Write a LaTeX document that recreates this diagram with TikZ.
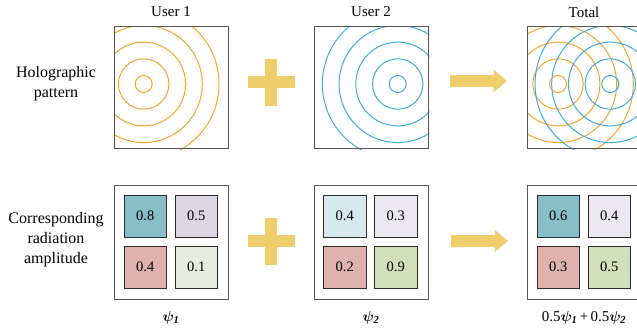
\documentclass[tikz,border=0pt]{standalone}
\usepackage{amsmath,amssymb,bm}
\usepackage{fontspec}
\setmainfont{Liberation Serif}
\usetikzlibrary{positioning}
\definecolor{ringorange}{HTML}{F3A224}
\definecolor{ringblue}{HTML}{3AADDC}
\definecolor{opyellow}{HTML}{EECE6B}
\definecolor{framegray}{HTML}{5A5550}
\definecolor{celldark}{HTML}{2E2B29}
\definecolor{ampteal}{HTML}{87BFC9}
\definecolor{amplav}{HTML}{DCD5E2}
\definecolor{amppink}{HTML}{DFB2AF}
\definecolor{ampmint}{HTML}{E6ECDD}
\definecolor{ampsky}{HTML}{D6E8EE}
\definecolor{amplilac}{HTML}{ECE8F0}
\definecolor{ampsage}{HTML}{D3DEBB}

\begin{document}
\begin{tikzpicture}[
    x=1pt, y=-1pt,
    holobox/.style={draw=framegray, line width=1.4pt, minimum width=114pt,
                    minimum height=122pt, inner sep=0pt, anchor=north west},
    ampbox/.style={draw=framegray, line width=1.4pt, minimum width=114pt,
                   minimum height=114pt, inner sep=0pt, anchor=north west},
    cell/.style={draw=celldark, line width=0.9pt, minimum size=42.5pt, inner sep=0pt,
                 font=\fontsize{14.5}{16}\selectfont},
    ringA/.style={draw=ringorange, line width=1pt},
    ringB/.style={draw=ringblue, line width=1pt},
    head/.style={font=\fontsize{15}{18}\selectfont},
    side/.style={font=\fontsize{16}{20}\selectfont, align=center},
    sub/.style={font=\fontsize{15}{18}\selectfont},
    plusbar/.style={fill=opyellow},
    opfill/.style={fill=opyellow},
]
\useasboundingbox (0,0) rectangle (637,332);

% Title labels
\node[head] (t1) at (171,12) {User 1};
\node[head] (t2) at (371,12) {User 2};
\node[head] (t3) at (584,12) {Total};
\node[side] (lhol) at (56,84) {Holographic\\pattern};
\node[side] (lamp) at (56,240) {Corresponding\\radiation\\amplitude};

% ---- TOP: holographic patterns ----
\node[holobox] (h1) at (114,26) {};
\node[holobox] (h2) at (314,26) {};
\node[holobox] (h3) at (527,26) {};
\coordinate (c1) at (143.7,84);
\coordinate (c2) at (397.7,84);
\coordinate (c3a) at (558,84);
\coordinate (c3b) at (610.3,84);
\begin{scope}
\clip (h1.north west) rectangle (h1.south east);
\foreach \r in {8.5,25.2,41.9,58.6,75.3} \draw[ringA] (c1) circle (\r);
\end{scope}
\begin{scope}
\clip (h2.north west) rectangle (h2.south east);
\foreach \r in {8.5,25.2,41.9,58.6,75.3} \draw[ringB] (c2) circle (\r);
\end{scope}
\begin{scope}
\clip (h3.north west) rectangle (h3.south east);
\foreach \r in {8.5,25.2,41.9,58.6,75.3} \draw[ringA] (c3a) circle (\r);
\foreach \r in {8.5,25.2,41.9,58.6,75.3} \draw[ringB] (c3b) circle (\r);
\end{scope}
\node[holobox] at (h1.north west) {};
\node[holobox] at (h2.north west) {};
\node[holobox] at (h3.north west) {};

% ---- BOTTOM: radiation amplitudes ----
\node[ampbox] (a1) at (114,185) {};
\node[ampbox] (a2) at (313.5,185) {};
\node[ampbox] (a3) at (527,185) {};
\node[cell, fill=ampteal] (a1tl) at (145.25,216.25) {0.8};
\node[cell, fill=amplav]  (a1tr) at (196.25,216.25) {0.5};
\node[cell, fill=amppink] (a1bl) at (145.25,267.25) {0.4};
\node[cell, fill=ampmint] (a1br) at (196.25,267.25) {0.1};
\node[cell, fill=ampsky]   (a2tl) at (344.75,216.25) {0.4};
\node[cell, fill=amplilac] (a2tr) at (395.75,216.25) {0.3};
\node[cell, fill=amppink]  (a2bl) at (344.75,267.25) {0.2};
\node[cell, fill=ampsage]  (a2br) at (395.75,267.25) {0.9};
\node[cell, fill=ampteal]  (a3tl) at (558.25,216.25) {0.6};
\node[cell, fill=amplilac] (a3tr) at (609.25,216.25) {0.4};
\node[cell, fill=amppink]  (a3bl) at (558.25,267.25) {0.3};
\node[cell, fill=ampsage]  (a3br) at (609.25,267.25) {0.5};

\node[sub] (s1) at (171,318) {$\bm{\psi}_{\textbf{\textit{1}}}$};
\node[sub] (s2) at (371,318) {$\bm{\psi}_{\textbf{\textit{2}}}$};
\node[sub] (s3) at (584,318) {0.5$\bm{\psi}_{\textbf{\textit{1}}}$\,+\,0.5$\bm{\psi}_{\textbf{\textit{2}}}$};

% ---- Operators ----
\fill[plusbar] (247.5,76) rectangle (294.5,88);
\fill[plusbar] (265,58.5) rectangle (277,105.5);
\fill[plusbar] (247.5,235) rectangle (294.5,247);
\fill[plusbar] (265,217.5) rectangle (277,264.5);
\foreach \yy/\dx in {81/0, 241/1}
  \fill[opfill] (450+\dx,\yy-6) -- (493.5+\dx,\yy-6) -- (493.5+\dx,\yy-11.3)
     -- (507+\dx,\yy) -- (493.5+\dx,\yy+11.3) -- (493.5+\dx,\yy+6) -- (450+\dx,\yy+6) -- cycle;
\end{tikzpicture}
\end{document}
